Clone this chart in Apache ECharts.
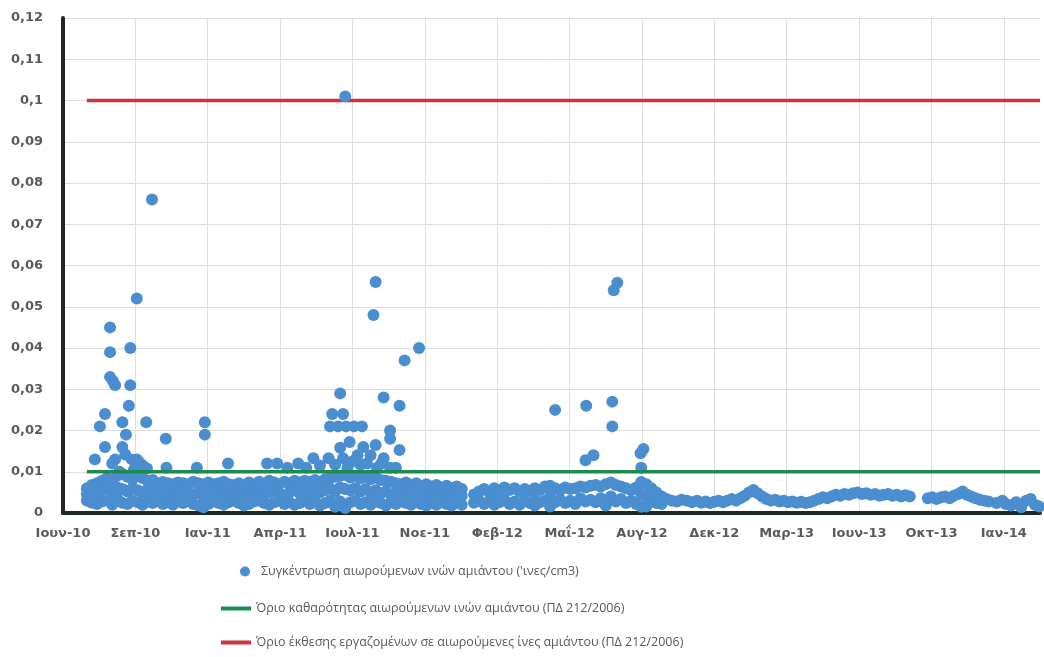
<!DOCTYPE html>
<html>
<head>
<meta charset="utf-8">
<script src="https://cdn.jsdelivr.net/npm/echarts@6/dist/echarts.min.js"></script>
<style>
html,body{margin:0;padding:0;background:#fff;}
#chart{width:1044px;height:657px;}
</style>
</head>
<body>
<div id="chart"></div>
<script>
// Tick labels of the x axis (one per label period)
const periodLabels = ['Ιουν-10','Σεπ-10','Ιαν-11','Απρ-11','Ιουλ-11','Νοε-11','Φεβ-12','Μαΐ-12','Αυγ-12','Δεκ-12','Μαρ-13','Ιουν-13','Οκτ-13','Ιαν-14'];
const yTicks = [0,0.01,0.02,0.03,0.04,0.05,0.06,0.07,0.08,0.09,0.1,0.11,0.12];

const seriesNames = [
  "Συγκέντρωση αιωρούμενων ινών αμιάντου ('ινες/cm3)",
  "Όριο καθαρότητας αιωρούμενων ινών αμιάντου (ΠΔ 212/2006)",
  "Όριο έκθεσης εργαζομένων σε αιωρούμενες ίνες αμιάντου (ΠΔ 212/2006)"
];

// Limits (fibres/cm3) and their span on the x axis (label-period units)
const cleanLimit = 0.01;
const exposureLimit = 0.1;
const limitSpan = [0.33, 13.5];

// Readings: [position in label periods, concentration]
const readings2010_2011 = [
[0.33,0.0060],[0.33,0.0045],[0.33,0.0030],[0.40,0.0068],[0.40,0.0050],[0.40,0.0025],
[0.47,0.0072],[0.47,0.0040],[0.47,0.0022],[0.54,0.0078],[0.54,0.0055],[0.54,0.0028],
[0.61,0.0085],[0.61,0.0060],[0.61,0.0030],[0.68,0.0080],[0.68,0.0048],[0.68,0.0020],
[0.75,0.0090],[0.75,0.0062],[0.75,0.0035],[0.82,0.0095],[0.82,0.0058],[0.82,0.0025],
[0.89,0.0088],[0.89,0.0052],[0.89,0.0022],[0.96,0.0082],[0.96,0.0060],[0.96,0.0030],
[1.03,0.0092],[1.03,0.0055],[1.03,0.0026],[1.10,0.0085],[1.10,0.0050],[1.10,0.0020],
[1.17,0.0078],[1.17,0.0058],[1.17,0.0028],[1.24,0.0080],[1.24,0.0045],[1.24,0.0024],
[1.31,0.0072],[1.31,0.0052],[1.31,0.0030],[1.38,0.0075],[1.38,0.0048],[1.38,0.0022],
[1.45,0.0072],[1.45,0.0055],[1.45,0.0026],[1.52,0.0070],[1.52,0.0042],[1.52,0.0020],
[1.59,0.0074],[1.59,0.0050],[1.59,0.0028],[1.66,0.0072],[1.66,0.0046],[1.66,0.0024],
[1.73,0.0070],[1.73,0.0052],[1.73,0.0030],[1.80,0.0076],[1.80,0.0044],[1.80,0.0022],
[1.87,0.0072],[1.87,0.0050],[1.87,0.0018],[1.94,0.0070],[1.94,0.0040],[1.94,0.0014],
[2.01,0.0074],[2.01,0.0048],[2.01,0.0022],[2.08,0.0070],[2.08,0.0052],[2.08,0.0028],
[2.15,0.0072],[2.15,0.0045],[2.15,0.0024],[2.22,0.0076],[2.22,0.0050],[2.22,0.0020],
[2.29,0.0070],[2.29,0.0042],[2.29,0.0026],[2.36,0.0068],[2.36,0.0048],[2.36,0.0030],
[2.43,0.0072],[2.43,0.0052],[2.43,0.0024],[2.50,0.0068],[2.50,0.0044],[2.50,0.0018],
[2.57,0.0074],[2.57,0.0050],[2.57,0.0022],[2.64,0.0070],[2.64,0.0046],[2.64,0.0028],
[2.71,0.0076],[2.71,0.0052],[2.71,0.0030],[2.78,0.0072],[2.78,0.0045],[2.78,0.0024],
[2.85,0.0078],[2.85,0.0050],[2.85,0.0020],[2.92,0.0074],[2.92,0.0055],[2.92,0.0026],
[2.99,0.0070],[2.99,0.0048],[2.99,0.0030],[3.06,0.0076],[3.06,0.0042],[3.06,0.0022],
[3.13,0.0072],[3.13,0.0050],[3.13,0.0026],[3.20,0.0078],[3.20,0.0055],[3.20,0.0020],
[3.27,0.0074],[3.27,0.0048],[3.27,0.0024],[3.34,0.0078],[3.34,0.0052],[3.34,0.0030],
[3.41,0.0075],[3.41,0.0045],[3.41,0.0022],[3.48,0.0080],[3.48,0.0058],[3.48,0.0028],
[3.55,0.0076],[3.55,0.0050],[3.55,0.0018],[3.62,0.0082],[3.62,0.0055],[3.62,0.0024],
[3.69,0.0085],[3.69,0.0060],[3.69,0.0030],[3.76,0.0088],[3.76,0.0052],[3.76,0.0015],
[3.83,0.0090],[3.83,0.0062],[3.83,0.0028],[3.90,0.0092],[3.90,0.0058],[3.90,0.0012],
[3.97,0.0086],[3.97,0.0055],[3.97,0.0026],[4.04,0.0090],[4.04,0.0060],[4.04,0.0030],
[4.11,0.0084],[4.11,0.0052],[4.11,0.0022],[4.18,0.0088],[4.18,0.0058],[4.18,0.0026],
[4.25,0.0082],[4.25,0.0050],[4.25,0.0020],[4.32,0.0086],[4.32,0.0055],[4.32,0.0028],
[4.39,0.0080],[4.39,0.0048],[4.39,0.0024],[4.46,0.0078],[4.46,0.0052],[4.46,0.0018],
[4.53,0.0076],[4.53,0.0045],[4.53,0.0026],[4.60,0.0072],[4.60,0.0050],[4.60,0.0022],
[4.67,0.0070],[4.67,0.0046],[4.67,0.0028],[4.74,0.0074],[4.74,0.0052],[4.74,0.0024],
[4.81,0.0068],[4.81,0.0044],[4.81,0.0020],[4.88,0.0072],[4.88,0.0050],[4.88,0.0026],
[4.95,0.0066],[4.95,0.0046],[4.95,0.0022],[5.02,0.0070],[5.02,0.0042],[5.02,0.0018],
[5.09,0.0064],[5.09,0.0048],[5.09,0.0024],[5.16,0.0068],[5.16,0.0044],[5.16,0.0020],
[5.23,0.0062],[5.23,0.0046],[5.23,0.0026],[5.30,0.0066],[5.30,0.0040],[5.30,0.0022],
[5.37,0.0060],[5.37,0.0044],[5.37,0.0018],[5.44,0.0064],[5.44,0.0040],[5.44,0.0024],
[5.51,0.0058],[5.51,0.0042],[5.51,0.0020]
];

const readings2012 = [
[5.68,0.0045],[5.68,0.0025],[5.75,0.0052],[5.75,0.0030],[5.82,0.0058],[5.82,0.0022],
[5.89,0.0050],[5.89,0.0028],[5.96,0.0060],[5.96,0.0035],[5.96,0.0020],[6.03,0.0055],[6.03,0.0026],
[6.10,0.0062],[6.10,0.0032],[6.17,0.0056],[6.17,0.0022],[6.24,0.0060],[6.24,0.0028],
[6.31,0.0052],[6.31,0.0020],[6.38,0.0058],[6.38,0.0030],[6.45,0.0054],[6.45,0.0024],
[6.52,0.0060],[6.52,0.0032],[6.52,0.0018],[6.59,0.0056],[6.59,0.0026],[6.66,0.0064],[6.66,0.0030],
[6.73,0.0066],[6.73,0.0040],[6.73,0.0016],[6.80,0.0060],[6.80,0.0026],[6.87,0.0056],[6.87,0.0032],
[6.94,0.0062],[6.94,0.0024],[7.01,0.0058],[7.01,0.0030],[7.08,0.0060],[7.08,0.0022],
[7.15,0.0064],[7.15,0.0035],[7.22,0.0062],[7.22,0.0028],[7.29,0.0066],[7.29,0.0032],
[7.36,0.0068],[7.36,0.0026],[7.43,0.0064],[7.43,0.0036],[7.50,0.0070],[7.50,0.0030],[7.50,0.0018],
[7.57,0.0074],[7.57,0.0040],[7.64,0.0068],[7.64,0.0028],[7.71,0.0064],[7.71,0.0034],
[7.78,0.0060],[7.78,0.0024],[7.85,0.0056],[7.85,0.0030],[7.92,0.0062],[7.92,0.0022],
[7.99,0.0075],[7.99,0.0045],[7.99,0.0015],[8.06,0.0070],[8.06,0.0040],[8.06,0.0016],
[8.13,0.0060],[8.13,0.0032],[8.20,0.0050],[8.20,0.0024],[8.27,0.0040],[8.27,0.0022],
[8.34,0.0034],[8.41,0.0030],[8.48,0.0028],[8.55,0.0032],[8.62,0.0030],[8.69,0.0026],[8.76,0.0030]
];

const readings2013 = [
[8.82,0.0025],[8.88,0.0028],[8.94,0.0024],[9.00,0.0027],[9.06,0.0030],[9.12,0.0026],
[9.18,0.0030],[9.24,0.0034],[9.30,0.0030],[9.36,0.0036],[9.42,0.0042],[9.48,0.0050],
[9.54,0.0056],[9.60,0.0048],[9.66,0.0040],[9.72,0.0034],[9.78,0.0030],[9.84,0.0032],
[9.90,0.0028],[9.96,0.0030],[10.02,0.0026],[10.08,0.0028],[10.14,0.0025],[10.20,0.0027],
[10.26,0.0024],[10.32,0.0026],[10.38,0.0030],[10.44,0.0034],[10.50,0.0038],[10.56,0.0036],
[10.62,0.0040],[10.68,0.0044],[10.74,0.0042],[10.80,0.0046],[10.86,0.0044],[10.92,0.0048],
[10.98,0.0050],[11.04,0.0046],[11.10,0.0048],[11.16,0.0044],[11.22,0.0046],[11.28,0.0042],
[11.34,0.0044],[11.40,0.0046],[11.46,0.0042],[11.52,0.0044],[11.58,0.0040],[11.64,0.0043],
[11.70,0.0040],
[11.95,0.0036],[12.01,0.0038],[12.07,0.0034],[12.13,0.0038],[12.19,0.0040],[12.25,0.0036],
[12.31,0.0042],[12.37,0.0046],[12.43,0.0052],[12.49,0.0044],[12.55,0.0040],[12.61,0.0036],
[12.67,0.0032],[12.73,0.0030],[12.79,0.0028],[12.90,0.0024],[12.98,0.0030],[13.03,0.0022],
[13.10,0.0018],[13.17,0.0026],[13.24,0.0014],[13.31,0.0030],[13.37,0.0034],[13.43,0.0020],
[13.49,0.0016]
];

const peakReadings = [
[0.44,0.013],[0.51,0.021],[0.58,0.024],[0.58,0.016],[0.65,0.045],[0.65,0.039],[0.65,0.033],
[0.69,0.032],[0.72,0.031],[0.72,0.013],[0.68,0.012],[0.78,0.010],[0.82,0.022],[0.82,0.016],
[0.87,0.019],[0.86,0.0142],[0.91,0.026],[0.93,0.040],[0.93,0.031],[0.95,0.013],[0.98,0.0105],
[1.02,0.052],[1.02,0.013],[1.06,0.0122],[1.10,0.0115],[1.12,0.011],[1.15,0.022],[1.16,0.0108],
[1.23,0.076],[1.42,0.018],[1.43,0.011],[1.85,0.011],[1.96,0.022],[1.96,0.019],[2.28,0.012],
[2.82,0.012],[2.96,0.012],[3.10,0.011],[3.25,0.012],[3.36,0.011],[3.46,0.0133],[3.55,0.0115],
[3.67,0.0133],
[3.90,0.101],[4.32,0.056],[4.29,0.048],[4.72,0.037],[4.92,0.040],[3.83,0.029],[4.43,0.028],
[4.65,0.026],[3.72,0.024],[3.87,0.024],[3.69,0.021],[3.80,0.021],[3.91,0.021],[4.02,0.021],
[4.13,0.021],[4.52,0.020],[4.52,0.018],[4.65,0.0153],[3.96,0.0172],[3.83,0.0158],[4.15,0.016],
[4.32,0.0165],[3.87,0.0133],[4.07,0.014],[4.25,0.014],[4.43,0.0133],[3.93,0.011],[4.11,0.0117],
[4.34,0.011],[4.52,0.011],[3.76,0.0117],[4.00,0.0125],[4.20,0.012],[4.40,0.012],[4.60,0.011],
[6.80,0.025],[7.23,0.026],[7.59,0.027],[7.59,0.021],[7.61,0.054],[7.66,0.0558],[7.22,0.0128],
[7.33,0.014],[7.98,0.0145],[8.02,0.0155],[7.99,0.011]
];

const allReadings = readings2010_2011.concat(readings2012, readings2013, peakReadings);

const chart = echarts.init(document.getElementById('chart'));
const axisFont = {fontFamily: 'DejaVu Sans', fontWeight: 'bold', fontSize: 13, color: '#5a5a5a'};
const legendText = {fontFamily: 'Open Sans', fontSize: 12.5, color: '#595959'};
const blue = '#4a8ed0', green = '#1d8a4e', red = '#d0313f';

chart.setOption({
  animation: false,
  backgroundColor: '#ffffff',
  grid: {left: 63, right: 4, top: 18, bottom: 144, containLabel: false},
  xAxis: {
    type: 'value', min: 0, max: 13.5, interval: 1,
    axisLine: {show: true, onZero: false, lineStyle: {color: '#1e2626', width: 4}},
    axisTick: {show: false},
    splitLine: {show: true, showMaxLine: false, lineStyle: {color: '#dedede', width: 1}},
    axisLabel: Object.assign({margin: 14, formatter: v => Number.isInteger(v) && periodLabels[v] ? periodLabels[v] : ''}, axisFont)
  },
  yAxis: {
    type: 'value', min: yTicks[0], max: yTicks[yTicks.length - 1], interval: 0.01,
    axisLine: {show: true, lineStyle: {color: '#1e2626', width: 4}},
    axisTick: {show: false},
    splitLine: {show: true, lineStyle: {color: '#dedede', width: 1}},
    axisLabel: Object.assign({margin: 20, formatter: v => String(+v.toFixed(2)).replace('.', ',')}, axisFont)
  },
  legend: [
    {data: [{name: seriesNames[0], icon: 'circle'}], left: 235, top: 560, itemWidth: 22, itemHeight: 10, textStyle: legendText},
    {data: [{name: seriesNames[1], icon: 'rect'}], left: 216, top: 597, itemWidth: 30, itemHeight: 4, textStyle: legendText},
    {data: [{name: seriesNames[2], icon: 'rect'}], left: 216, top: 631, itemWidth: 30, itemHeight: 4, textStyle: legendText}
  ],
  series: [
    {
      name: seriesNames[0], type: 'scatter', data: allReadings, symbolSize: 12,
      itemStyle: {color: blue, opacity: 1}, z: 2
    },
    {
      name: seriesNames[1], type: 'line', showSymbol: false, symbol: 'none',
      data: [[limitSpan[0], cleanLimit], [limitSpan[1], cleanLimit]],
      lineStyle: {color: green, width: 3.5}, itemStyle: {color: green}, z: 3
    },
    {
      name: seriesNames[2], type: 'line', showSymbol: false, symbol: 'none',
      data: [[limitSpan[0], exposureLimit], [limitSpan[1], exposureLimit]],
      lineStyle: {color: red, width: 3.5}, itemStyle: {color: red}, z: 1
    }
  ]
});
</script>
</body>
</html>
